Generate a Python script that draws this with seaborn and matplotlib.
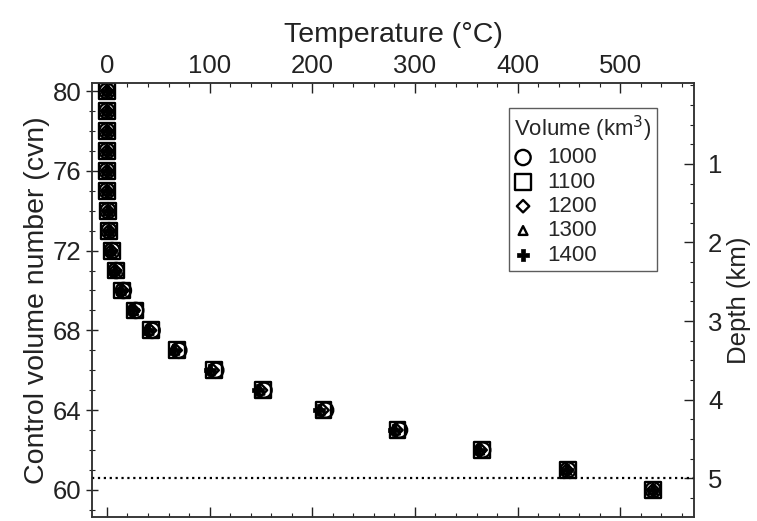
import matplotlib
matplotlib.use("Agg")
import matplotlib.pyplot as plt
from matplotlib.ticker import MultipleLocator
import numpy as np
import pandas as pd
import seaborn as sns

# Control volume numbers (top = 80, deepest = 60)
cvn = [80, 79, 78, 77, 76, 75, 74, 73, 72, 71, 70, 69, 68, 67, 66, 65, 64, 63, 62, 61, 60]

# Temperature (deg C) for each magma chamber volume (km^3)
t_1000 = [0, 0, 0, 0, 0, 0, 1, 2, 5, 9, 16, 28, 44, 70, 106, 153, 213, 285, 366, 449, 532]
t_1100 = [0, 0, 0, 0, 0, 0, 1, 2, 5, 9, 15, 27, 43, 68, 104, 152, 211, 283, 365, 449, 532]
t_1200 = [0, 0, 0, 0, 0, 0, 1, 2, 4, 8, 15, 26, 42, 67, 103, 150, 210, 282, 364, 448, 532]
t_1300 = [0, 0, 0, 0, 0, 0, 1, 2, 4, 8, 14, 26, 41, 66, 101, 149, 208, 281, 363, 448, 532]
t_1400 = [0, 0, 0, 0, 0, 0, 1, 2, 4, 8, 14, 25, 40, 65, 100, 147, 207, 280, 362, 448, 532]

volumes = ["1000", "1100", "1200", "1300", "1400"]
temps = [t_1000, t_1100, t_1200, t_1300, t_1400]
markers = ["o", "s", "D", "^", "P"]
sizes = [120, 130, 40, 40, 70]

# depth (km) on the right axis vs cvn
cvn_top = 80.29
cvn_per_km = 3.94
depth_line = 5

df = pd.concat([pd.DataFrame({"cvn": cvn, "T": t, "vol": v}) for v, t in zip(volumes, temps)])

sns.set_style("ticks")
plt.rcParams["font.family"] = ["Liberation Sans", "DejaVu Sans"]
plt.rcParams["font.size"] = 18

fig = plt.figure(figsize=(7.57, 5.21), dpi=100)
ax = fig.add_axes([0.1215, 0.008, 0.7955, 0.8325])

for v, m, s in zip(volumes, markers, sizes):
    sub = df[df["vol"] == v]
    if m == "P":
        sns.scatterplot(data=sub, x="T", y="cvn", marker=m, s=s, color="black",
                        edgecolor="black", linewidth=0.5, label=v, ax=ax, zorder=3)
    else:
        sns.scatterplot(data=sub, x="T", y="cvn", marker=m, s=s, facecolor="none",
                        edgecolor="black", linewidth=1.7, label=v, ax=ax, zorder=3)

ylo, yhi = 58.65, 80.4
ax.set_xlim(-14.6, 572)
ax.set_ylim(ylo, yhi)
ax.xaxis.set_major_locator(MultipleLocator(100))
ax.xaxis.set_minor_locator(MultipleLocator(20))
ax.yaxis.set_major_locator(MultipleLocator(4))
ax.yaxis.set_minor_locator(MultipleLocator(1))
ax.xaxis.tick_top()
ax.xaxis.set_label_position("top")
ax.tick_params(axis="x", which="both", direction="in", top=True, bottom=True,
               labeltop=True, labelbottom=False, colors="#222222")
ax.tick_params(axis="x", which="major", length=7, width=1, labelsize=18.5, pad=4)
ax.tick_params(axis="x", which="minor", length=3, width=0.8)
ax.tick_params(axis="y", which="both", direction="inout", right=False, colors="#222222")
ax.tick_params(axis="y", which="major", length=9, width=1, labelsize=18.5, pad=3)
ax.tick_params(axis="y", which="minor", length=5, width=0.8)
ax.set_xlabel("Temperature (°C)", fontsize=20.5, labelpad=8, color="#222222")
ax.set_ylabel("Control volume number (cvn)", fontsize=20.5, labelpad=2, color="#222222")

ax2 = ax.twinx()
ax2.set_ylim((cvn_top - ylo) / cvn_per_km, (cvn_top - yhi) / cvn_per_km)
ax2.yaxis.set_major_locator(MultipleLocator(1))
ax2.yaxis.set_minor_locator(MultipleLocator(0.25))
ax2.set_yticks([1, 2, 3, 4, 5])
ax2.tick_params(axis="y", which="both", direction="in", colors="#222222")
ax2.tick_params(axis="y", which="major", length=7, width=1, labelsize=18.5, pad=10)
ax2.tick_params(axis="y", which="minor", length=3, width=0.8)
ax2.set_ylabel("Depth (km)", fontsize=18.5, labelpad=3, color="#222222")
ax2.axhline(depth_line, color="black", linestyle=":", linewidth=1.6, zorder=2)

for a in (ax, ax2):
    for sp in a.spines.values():
        sp.set_color("#333333")
        sp.set_linewidth(1.1)

leg = ax.legend(title="Volume (km$^3$)", loc="upper right", bbox_to_anchor=(0.9385, 0.942),
                frameon=True, fancybox=False, edgecolor="#333333", fontsize=16,
                title_fontsize=16, handletextpad=0.7, borderpad=0.25, labelspacing=0.15,
                handlelength=0.8, borderaxespad=0)
leg._legend_box.align = "left"
leg.get_frame().set_linewidth(1.0)

fig.savefig("out.png", dpi=100)
